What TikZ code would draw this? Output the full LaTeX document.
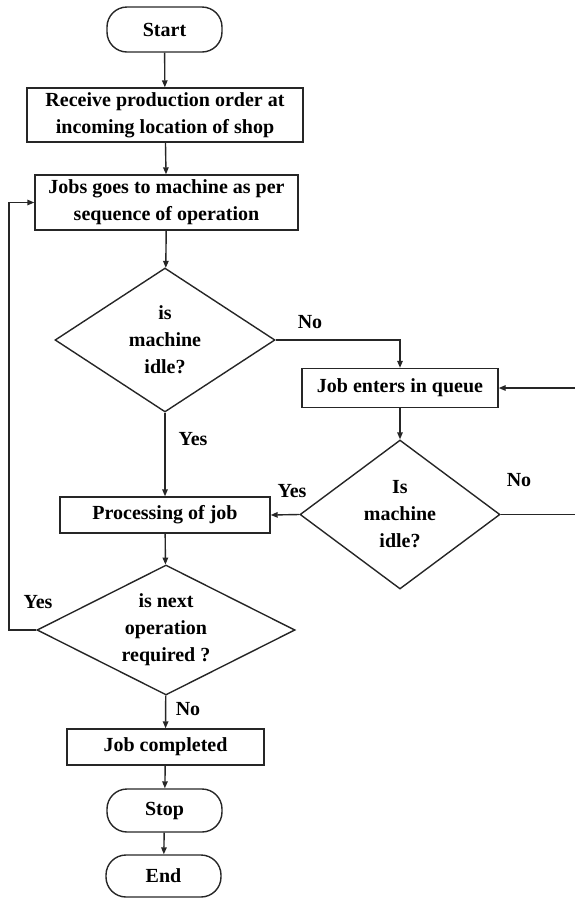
\documentclass[tikz,border=0pt]{standalone}
\usepackage{fontspec}
\setmainfont{Liberation Serif}
\usepackage{tikz}
\usetikzlibrary{shapes.geometric,arrows.meta,positioning,calc}

\begin{document}
\begin{tikzpicture}[x=1pt,y=-1pt,
    font=\fontsize{20}{27}\selectfont\bfseries,
    line/.style={line width=1.4pt,draw=black!85},
    arr/.style={line,-{Triangle[length=7pt,width=5.5pt]}},
    box/.style={line,rectangle,align=center,inner sep=0pt},
    term/.style={line,rectangle,rounded corners=20pt,inner sep=0pt,minimum width=115pt},
    decision/.style={line,diamond,align=center,inner sep=0pt},
    lbl/.style={inner sep=0pt}]
    \useasboundingbox (0,0) rectangle (575,898);

    % terminals and boxes
    \node[term,minimum height=45pt] (start) at (164.5,29.5) {Start};
    \node[box,minimum width=276pt,minimum height=54pt] (recv) at (165,115)
        {Receive production order at\\incoming location of shop};
    \node[box,minimum width=263pt,minimum height=55pt] (jobs) at (166.5,202.5)
        {Jobs goes to machine as per\\sequence of operation};

    % first check
    \node[decision,aspect=1.5,minimum width=220pt,minimum height=144pt] (idle) at (165,340)
        {is\\machine\\idle?};
    \node[box,minimum width=196pt,minimum height=39pt] (queue) at (400,388) {Job enters in queue};
    \node[decision,aspect=1.35,minimum width=200pt,minimum height=149pt] (idlq) at (400,514.5)
        {Is\\machine\\idle?};
    \node[box,minimum width=210pt,minimum height=36pt] (proc) at (165,515) {Processing of job};

    % next operation
    \node[decision,aspect=2,minimum width=258pt,minimum height=130pt] (next) at (166,630)
        {is next\\operation\\required ?};
    \node[box,minimum width=197pt,minimum height=36pt] (done) at (165.5,747) {Job completed};
    \node[term,minimum height=43pt] (stop) at (164.5,810.5) {Stop};
    \node[term,minimum height=42pt] (endn) at (163.5,876) {End};

    % labels
    \node[lbl] (no1) at (310,322) {No};
    \node[lbl] (yes1) at (193,439) {Yes};
    \node[lbl] (yes2) at (292,491) {Yes};
    \node[lbl] (no2) at (519,480) {No};
    \node[lbl] (yes3) at (38,602) {Yes};
    \node[lbl] (no3) at (188,709) {No};

    % connectors
    \coordinate (rloop) at (576,514.5);
    \coordinate (lloop) at (9,630);
    \draw[arr] (start) -- (recv);
    \draw[arr] (recv) -- (jobs);
    \draw[arr] (jobs) -- (idle);
    \draw[arr] (idle.east) -| (queue.north);
    \draw[arr] (queue) -- (idlq);
    \draw[arr] (idle) -- (proc);
    \draw[arr] (idlq.west) -- (proc.east);
    \draw[arr] (idlq.east) -- (rloop) |- (queue.east);
    \draw[arr] (proc) -- (next);
    \draw[arr] (next.west) -- (lloop) |- (jobs.west);
    \draw[arr] (next) -- (done);
    \draw[arr] (done) -- (stop);
    \draw[arr] (stop) -- (endn);
\end{tikzpicture}
\end{document}
